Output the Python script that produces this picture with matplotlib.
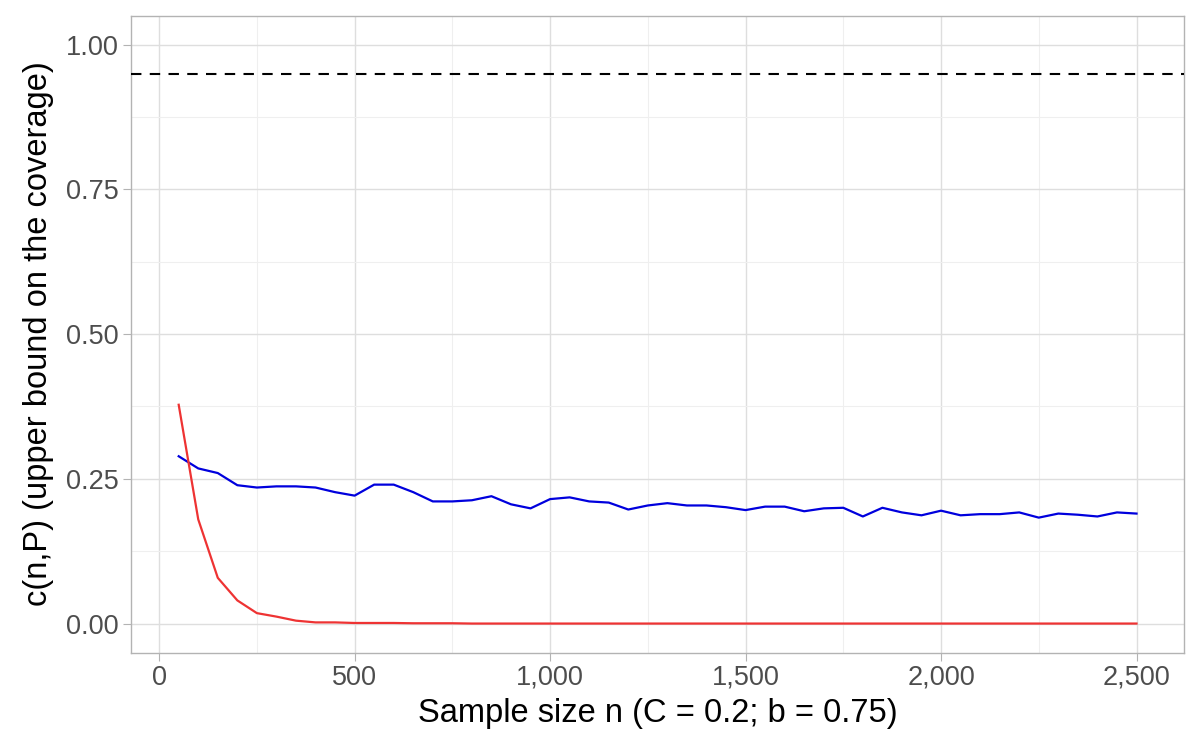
import matplotlib
matplotlib.use("Agg")
import matplotlib.pyplot as plt
from matplotlib.ticker import FuncFormatter, MultipleLocator

plt.rcParams["font.family"] = ["Liberation Sans", "DejaVu Sans"]

n_values = list(range(50, 2501, 50))

# upper bound on coverage
blue_vals = [
    0.289, 0.268, 0.260, 0.239, 0.235, 0.237, 0.237, 0.235, 0.227, 0.221,
    0.240, 0.240, 0.227, 0.211, 0.211, 0.213, 0.220, 0.206, 0.199, 0.215,
    0.218, 0.211, 0.209, 0.197, 0.204, 0.208, 0.204, 0.204, 0.201, 0.196,
    0.202, 0.202, 0.194, 0.199, 0.200, 0.185, 0.200, 0.192, 0.187, 0.195,
    0.187, 0.189, 0.189, 0.192, 0.183, 0.190, 0.188, 0.185, 0.192, 0.190,
]
red_vals = [
    0.378, 0.180, 0.079, 0.040, 0.018, 0.012, 0.005, 0.002, 0.002, 0.001,
    0.001, 0.001, 0.0005, 0.0005, 0.0005, 0.0, 0.0, 0.0, 0.0, 0.0,
    0.0, 0.0, 0.0, 0.0, 0.0, 0.0, 0.0, 0.0, 0.0, 0.0,
    0.0, 0.0, 0.0, 0.0, 0.0, 0.0, 0.0, 0.0, 0.0, 0.0,
    0.0, 0.0, 0.0, 0.0, 0.0, 0.0, 0.0, 0.0, 0.0, 0.0,
]
nominal = 0.95

fig = plt.figure(figsize=(12, 7.5), dpi=100)
ax = fig.add_axes([0.109, 0.13, 0.878, 0.849])

ax.plot(n_values, blue_vals, color="#0000DD", lw=1.6, zorder=3)
ax.plot(n_values, red_vals, color="#EE3333", lw=1.6, zorder=3)
ax.axhline(nominal, color="black", lw=1.5, ls=(0, (5, 4)), zorder=3)

ax.set_xlim(-72.5, 2622.5)
ax.set_ylim(-0.05, 1.05)
ax.xaxis.set_major_locator(MultipleLocator(500))
ax.xaxis.set_minor_locator(MultipleLocator(250))
ax.yaxis.set_major_locator(MultipleLocator(0.25))
ax.yaxis.set_minor_locator(MultipleLocator(0.125))
ax.xaxis.set_major_formatter(FuncFormatter(lambda v, p: f"{int(v):,}"))
ax.yaxis.set_major_formatter(FuncFormatter(lambda v, p: f"{v:.2f}"))

ax.grid(which="major", color="#DEDEDE", lw=1.0)
ax.grid(which="minor", color="#EFEFEF", lw=0.8)
ax.set_axisbelow(True)
for s in ax.spines.values():
    s.set_color("#B3B3B3")
    s.set_linewidth(1.0)
ax.tick_params(which="major", length=6, color="#B3B3B3", labelsize=19.5,
               labelcolor="#4D4D4D", pad=3)
ax.tick_params(which="minor", length=0)

ax.set_xlabel("Sample size n (C = 0.2; b = 0.75)", fontsize=23.5, labelpad=5)
ax.set_ylabel("c(n,P) (upper bound on the coverage)", fontsize=23.5, labelpad=8)

fig.savefig("out.png", dpi=100)
